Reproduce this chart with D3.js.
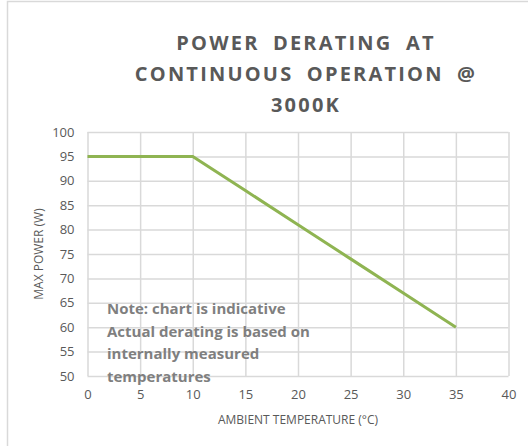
<!DOCTYPE html>
<html>
<head>
<meta charset="utf-8">
<script src="https://cdn.jsdelivr.net/npm/d3@7"></script>
<style>
  body { margin: 0; background: #fff; }
  svg { display: block; font-family: "Open Sans", sans-serif; }
</style>
</head>
<body>
<div id="chart"></div>
<script>
// chart data
const temps = [0, 10, 15, 20, 25, 30, 35];
const maxPower = [95, 95, 88, 81, 74, 67, 60];
const xTicks = [0, 5, 10, 15, 20, 25, 30, 35, 40];
const yTicks = [50, 55, 60, 65, 70, 75, 80, 85, 90, 95, 100];
const titleLines = ["POWER DERATING AT", "CONTINUOUS OPERATION @", "3000K"];
const noteLines = ["Note: chart is indicative", "Actual derating is based on", "internally measured", "temperatures"];

const W = 528, H = 446;
const margin = { top: 132, right: 19.5, bottom: 70, left: 87.5 };
const width = W - margin.left - margin.right;
const height = H - margin.top - margin.bottom;

const svg = d3.select("#chart")
    .append("svg")
    .attr("width", W)
    .attr("height", H);

// outer frame (cropped on right/bottom)
svg.append("rect")
    .attr("x", 7.5)
    .attr("y", 1.5)
    .attr("width", W)
    .attr("height", H)
    .attr("fill", "none")
    .attr("stroke", "#d9d9d9")
    .attr("stroke-width", 1.5);

// title
svg.append("g")
    .selectAll("text")
    .data(titleLines)
    .join("text")
    .attr("x", 306)
    .attr("y", (d, i) => 50 + i * 31)
    .attr("text-anchor", "middle")
    .attr("font-size", 20)
    .attr("font-weight", "bold")
    .attr("letter-spacing", 2.2)
    .attr("word-spacing", 6)
    .attr("fill", "#595959")
    .text(d => d);

const g = svg.append("g")
    .attr("transform", `translate(${margin.left},${margin.top})`);

const x = d3.scaleLinear().domain([0, 40]).range([0, width]);
const y = d3.scaleLinear().domain([50, 100]).range([height, 0]);

// gridlines
g.append("g")
    .attr("class", "xgrid")
    .attr("transform", `translate(0,${height})`)
    .call(d3.axisBottom(x).tickValues(xTicks).tickSize(-height).tickFormat(""))
    .call(s => s.select(".domain").remove())
    .call(s => s.selectAll("line").attr("stroke", "#d9d9d9").attr("stroke-width", 1.5));

g.append("g")
    .attr("class", "ygrid")
    .call(d3.axisLeft(y).tickValues(yTicks).tickSize(-width).tickFormat(""))
    .call(s => s.select(".domain").remove())
    .call(s => s.selectAll("line").attr("stroke", "#d9d9d9").attr("stroke-width", 1.5));

// tick labels
g.append("g")
    .attr("transform", `translate(0,${height})`)
    .call(d3.axisBottom(x).tickValues(xTicks).tickSize(0).tickPadding(14))
    .call(s => s.select(".domain").remove())
    .call(s => s.selectAll("text").attr("fill", "#595959").attr("font-size", 13).attr("font-family", "Open Sans, sans-serif"));

g.append("g")
    .call(d3.axisLeft(y).tickValues(yTicks).tickSize(0).tickPadding(13))
    .call(s => s.select(".domain").remove())
    .call(s => s.selectAll("text").attr("fill", "#595959").attr("font-size", 13).attr("font-family", "Open Sans, sans-serif"));

// axis titles
svg.append("text")
    .attr("x", margin.left + width / 2)
    .attr("y", 424)
    .attr("text-anchor", "middle")
    .attr("font-size", 12)
    .attr("fill", "#595959")
    .text("AMBIENT TEMPERATURE (°C)");

svg.append("text")
    .attr("transform", `translate(43,${margin.top + height / 2}) rotate(-90)`)
    .attr("text-anchor", "middle")
    .attr("font-size", 12)
    .attr("fill", "#595959")
    .text("MAX POWER (W)");

// the derating line
const line = d3.line()
    .x((d, i) => x(temps[i]))
    .y(d => y(d));

g.append("path")
    .datum(maxPower)
    .attr("d", line)
    .attr("fill", "none")
    .attr("stroke", "#8fb452")
    .attr("stroke-width", 3);

// note
svg.append("g")
    .selectAll("text")
    .data(noteLines)
    .join("text")
    .attr("x", 107)
    .attr("y", (d, i) => 314 + i * 22.5)
    .attr("font-size", 15)
    .attr("font-weight", "bold")
    .attr("fill", "#7f7f7f")
    .text(d => d);
</script>
</body>
</html>
